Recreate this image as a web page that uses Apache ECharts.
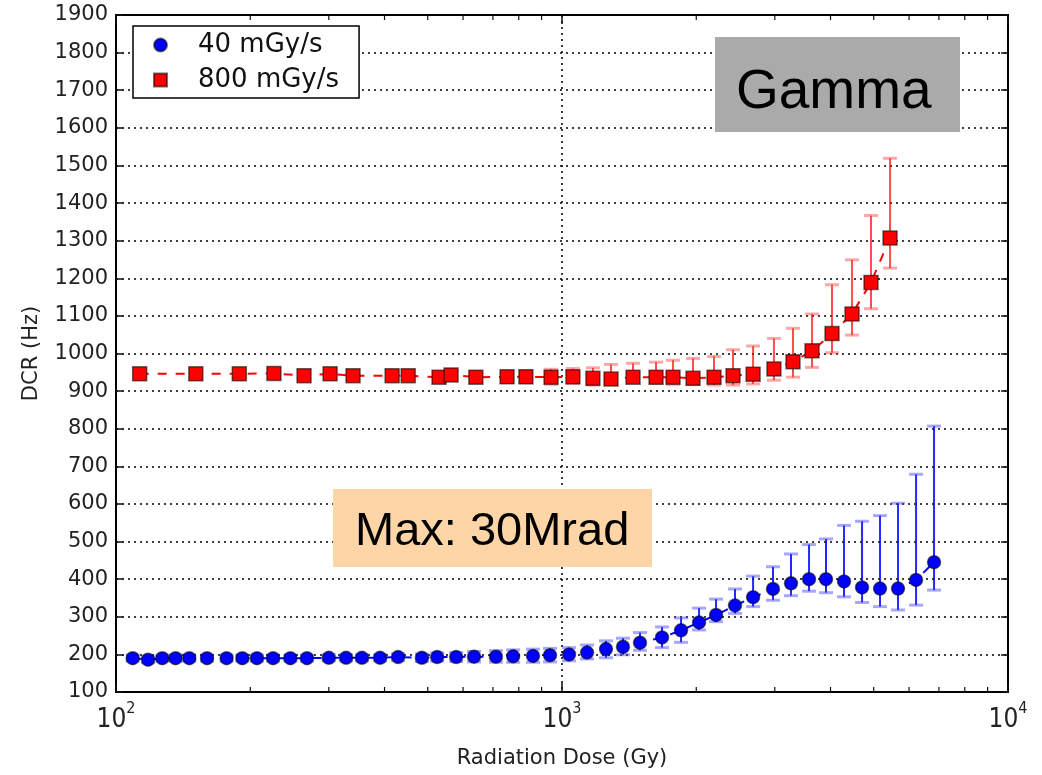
<!DOCTYPE html>
<html><head><meta charset="utf-8">
<script src="https://cdn.jsdelivr.net/npm/echarts@6/dist/echarts.min.js"></script>
<style>html,body{margin:0;padding:0;background:#fff}#c{width:1042px;height:775px}</style>
</head><body><div id="c"></div>
<script>
// ---- data ----
const blueName = '40 mGy/s';
const redName = '800 mGy/s';
const blueDose = [109,118,127,136,146,160,177,192,207,225,246,268,300,328,356,391,429,485,525,579,635,711,777,861,940,1037,1138,1255,1370,1496,1676,1849,2029,2215,2443,2682,2972,3262,3580,3908,4289,4707,5165,5668,6221,6826];
const blueDCR  = [190,186,190,190,190,190,190,190,190,190,190,190,191,191,191,191,193,191,193,193,194,194,195,196,198,200,205,214,220,231,245,264,285,305,330,352,374,389,400,400,394,378,375,375,398,445];
const blueLow  = [182,178,182,182,182,182,182,182,182,182,182,182,183,183,183,183,184,181,182,181,180,179,179,179,180,183,188,191,199,211,218,232,265,287,309,327,344,356,368,364,353,338,327,318,331,371];
const blueHigh = [198,194,198,198,198,198,198,198,198,198,198,198,199,199,199,199,202,201,204,205,208,210,212,214,216,218,225,236,243,258,273,297,323,347,374,408,433,467,492,507,543,554,569,602,679,807];

const redDose = [113,151,189,226,264,302,340,416,452,530,564,641,753,830,945,1058,1173,1288,1443,1625,1774,1967,2192,2418,2682,2987,3296,3636,4031,4470,4930,5439];
const redDCR  = [946,946,946,947,941,946,941,941,941,937,943,937,938,938,937,938,934,932,937,937,937,934,937,941,945,959,978,1007,1053,1105,1189,1307];
const redLow  = [934,934,934,935,929,934,929,929,929,924,930,923,923,922,918,920,916,921,924,921,918,918,916,916,919,929,937,963,1002,1049,1119,1227];
const redHigh = [958,958,958,959,953,958,953,953,953,950,956,951,953,954,958,960,962,971,974,977,982,987,992,1010,1020,1040,1067,1105,1183,1249,1367,1519];

const yMin = 100, yMax = 1900, yStep = 100;
const xMin = 100, xMax = 10000;
const minorTicks = [200,300,400,500,600,700,800,900,2000,3000,4000,5000,6000,7000,8000,9000];
const xTitle = 'Radiation Dose (Gy)';
const yTitle = 'DCR (Hz)';
const note1 = 'Gamma';
const note2 = 'Max: 30Mrad';

// ---- build ----
const zip = (a,b) => a.map((v,i)=>[v,b[i]]);
const zip3 = (a,b,c) => a.map((v,i)=>[v,b[i],c[i]]);

function errRender(barColor, capColor){
  return function(params, api){
    const x = api.value(0), lo = api.value(1), hi = api.value(2);
    const p1 = api.coord([x, lo]), p2 = api.coord([x, hi]);
    const w = 7;
    return {type:'group', children:[
      {type:'line', shape:{x1:p1[0],y1:p1[1],x2:p2[0],y2:p2[1]}, style:{stroke:barColor,lineWidth:2}},
      {type:'line', shape:{x1:p1[0]-w,y1:p1[1],x2:p1[0]+w,y2:p1[1]}, style:{stroke:capColor,lineWidth:3}},
      {type:'line', shape:{x1:p2[0]-w,y1:p2[1],x2:p2[0]+w,y2:p2[1]}, style:{stroke:capColor,lineWidth:3}}
    ]};
  };
}

const font = 'DejaVu Sans';
const cond = 'DejaVu Sans Condensed, DejaVu Sans';
const chart = echarts.init(document.getElementById('c'), null, {renderer:'canvas'});
const option = {
  backgroundColor:'#fff',
  animation:false,
  grid:{left:116, right:34, top:15, bottom:83, show:true, borderColor:'#000', borderWidth:2, backgroundColor:'transparent'},
  legend:{
    orient:'vertical', left:133, top:26,
    data:[{name:blueName, icon:'circle'},{name:redName, icon:'rect'}],
    itemWidth:13, itemHeight:13, itemGap:9,
    padding:[6,20,5,20],
    borderColor:'#000', borderWidth:1.5, backgroundColor:'#fff',
    textStyle:{fontFamily:font, fontSize:26, color:'#111', padding:[0,0,0,26]}
  },
  xAxis:[{
    type:'log', logBase:10, min:xMin, max:xMax,
    name:xTitle, nameLocation:'middle', nameGap:56,
    nameTextStyle:{fontFamily:font, fontSize:21, color:'#222'},
    axisLine:{show:false},
    axisTick:{show:true, inside:true, length:9, lineStyle:{color:'#111', width:1.5}},
    axisLabel:{margin:9, formatter:function(v){const e=Math.round(Math.log10(v)); return '{b|10}{s|'+e+'}';},
      rich:{b:{fontFamily:cond, fontSize:26, color:'#222', lineHeight:32, verticalAlign:'bottom'},
            s:{fontFamily:cond, fontSize:16, color:'#222', verticalAlign:'top', lineHeight:32}}},
    splitLine:{show:true, lineStyle:{color:'#000', type:[2,4], width:1.5}}
  },{
    type:'log', logBase:10, min:xMin, max:xMax, position:'top',
    axisLine:{show:false}, axisLabel:{show:false}, splitLine:{show:false},
    axisTick:{show:true, inside:true, length:9, lineStyle:{color:'#111', width:1.5}}
  }],
  yAxis:[{
    type:'value', min:yMin, max:yMax, interval:yStep,
    name:yTitle, nameLocation:'middle', nameGap:74,
    nameTextStyle:{fontFamily:font, fontSize:21, color:'#222'},
    axisLine:{show:false},
    axisTick:{show:true, inside:true, length:7, lineStyle:{color:'#111', width:1.5}},
    axisLabel:{fontFamily:font, fontSize:21, color:'#222', margin:8, formatter:function(v){return String(v);}},
    splitLine:{show:true, lineStyle:{color:'#000', type:[2,4], width:1.5}}
  },{
    type:'value', min:yMin, max:yMax, interval:yStep, position:'right',
    axisLine:{show:false}, axisLabel:{show:false}, splitLine:{show:false},
    axisTick:{show:true, inside:true, length:7, lineStyle:{color:'#111', width:1.5}}
  }],
  series:[
    {type:'custom', name:'minor', xAxisIndex:0, yAxisIndex:0, silent:true, z:1,
     data:minorTicks.map(v=>[v,yMin]), encode:{x:0,y:1},
     renderItem:function(params, api){
       const v = api.value(0);
       const b = api.coord([v, yMin]), t = api.coord([v, yMax]);
       return {type:'group', children:[
         {type:'line', shape:{x1:b[0],y1:b[1],x2:b[0],y2:b[1]-5}, style:{stroke:'#111',lineWidth:1.2}},
         {type:'line', shape:{x1:t[0],y1:t[1],x2:t[0],y2:t[1]+5}, style:{stroke:'#111',lineWidth:1.2}}
       ]};
     }},
    {type:'custom', name:'blueErr', silent:true, z:2,
     data:zip3(blueDose, blueLow, blueHigh), encode:{x:0, y:[1,2]},
     renderItem:errRender('rgba(0,0,255,0.85)','rgba(60,60,255,0.45)')},
    {type:'custom', name:'redErr', silent:true, z:2,
     data:zip3(redDose, redLow, redHigh), encode:{x:0, y:[1,2]},
     renderItem:errRender('rgba(255,0,0,0.7)','rgba(255,60,60,0.45)')},
    {type:'line', name:blueName, z:5, data:zip(blueDose, blueDCR),
     symbol:'circle', symbolSize:13,
     lineStyle:{color:'#0000ff', width:2, type:[9,9]},
     itemStyle:{color:'#0000ff', borderColor:'rgba(0,0,0,0.55)', borderWidth:1.5}},
    {type:'line', name:redName, z:5, data:zip(redDose, redDCR),
     symbol:'rect', symbolSize:14,
     lineStyle:{color:'#ff0000', width:2, type:[9,9]},
     itemStyle:{color:'#ff0000', borderColor:'rgba(0,0,0,0.55)', borderWidth:1.5}}
  ],
  graphic:[
    {type:'rect', left:715, top:37, z:10, shape:{width:245, height:95}, style:{fill:'#aaaaaa'}},
    {type:'text', left:736, top:65, z:11, style:{text:note1, fontFamily:'Liberation Sans', fontSize:55, fill:'#000'}},
    {type:'rect', left:333, top:489, z:10, shape:{width:319, height:78}, style:{fill:'#fdd5a6'}},
    {type:'text', left:355, top:509, z:11, style:{text:note2, fontFamily:'Liberation Sans', fontSize:47, fill:'#000'}}
  ]
};
chart.setOption(option);
</script></body></html>
